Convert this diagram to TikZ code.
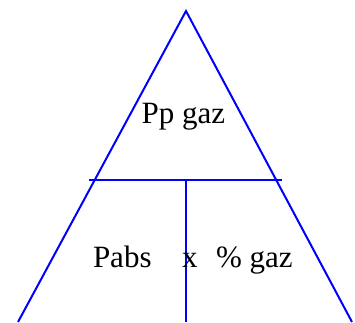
\documentclass[tikz,border=0pt]{standalone}
\usepackage{fontspec}
\setmainfont{Liberation Serif}
\definecolor{triB}{RGB}{0,0,255}

\begin{document}
\begin{tikzpicture}[x=1pt,y=-1pt,line width=2pt,
  lbl/.style={font=\fontsize{31}{36}\selectfont,inner sep=0pt,anchor=base}]
\useasboundingbox (0,0) rectangle (355,322);
\coordinate (apex) at (186,11);
\coordinate (bl) at (18,322); \coordinate (br) at (352,322);
\coordinate (ml) at (89,180); \coordinate (mr) at (282,180);
\coordinate (mt) at (186,180); \coordinate (mb) at (186,322);
\draw[triB] (bl)--(apex)--(br);
\draw[triB] (ml)--(mr);
\draw[triB] (mt)--(mb);
\node[lbl] (pp) at (183.5,123.5) {Pp gaz};
\node[lbl,anchor=base west] (pabs) at (92,267) {Pabs};
\node[lbl,anchor=base west] (fois) at (181,267) {x};
\node[lbl,anchor=base west] (pct) at (215,267) {\% gaz};
\end{tikzpicture}
\end{document}
